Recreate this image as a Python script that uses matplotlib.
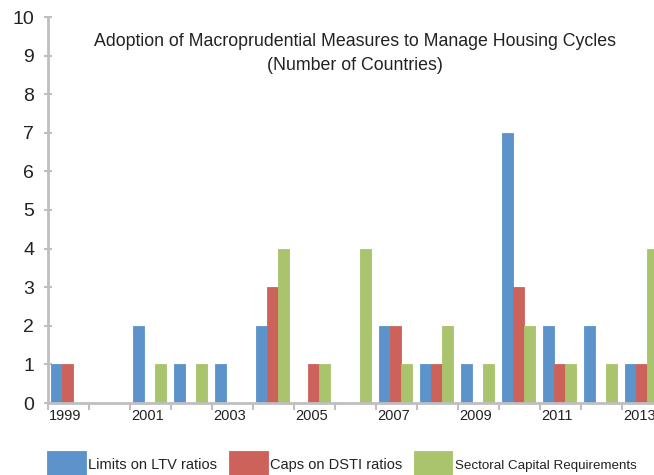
import matplotlib
matplotlib.use("Agg")
import matplotlib.pyplot as plt
import numpy as np

years = [str(y) for y in range(1999, 2014)]
ltv = [1, 0, 2, 1, 1, 2, 0, 0, 2, 1, 1, 7, 2, 2, 1]
dsti = [1, 0, 0, 0, 0, 3, 1, 0, 2, 1, 0, 3, 1, 0, 1]
sectoral = [0, 0, 1, 1, 0, 4, 1, 4, 1, 2, 1, 2, 1, 1, 4]
series_names = ["Limits on LTV ratios", "Caps on DSTI ratios", "Sectoral Capital Requirements"]
colors = ["#5B93CA", "#CD625B", "#A9C46C"]

plt.rcParams['font.family'] = ['Liberation Sans', 'DejaVu Sans']

fig = plt.figure(figsize=(6.54, 4.75), dpi=100)
ax = fig.add_axes([48/654, 72/475, 1 - 48/654, (403-17)/475])

x = np.arange(len(years))
w = 0.268
offs = [-0.293, -0.025, 0.243]
handles = []
for vals, off, c, name in zip([ltv, dsti, sectoral], offs, colors, series_names):
    b = ax.bar(x + off, vals, width=w, color=c, label=name, zorder=2,
               edgecolor=c, linewidth=0.6)
    handles.append(b)

ax.set_yticks(range(0, 11))
ax.tick_params(axis='y', labelsize=14, colors='#bfbfbf', labelcolor='#222222',
               direction='inout', length=6, width=1.5, pad=7)
ax.set_xticks(x[::2] - 0.08)
ax.set_xticklabels(years[::2])
ax.set_xticks(np.arange(-0.5, 14.5, 1), minor=True)
ax.tick_params(axis='x', which='major', length=0, labelsize=10.5, labelcolor='#222222', pad=4)
ax.tick_params(axis='x', which='minor', length=5, width=1.5, colors='#bfbfbf', direction='out')
ax.set_xlim(-0.5, 14.28)
ax.set_ylim(0, 10)
for s in ['top', 'right']:
    ax.spines[s].set_visible(False)
for s in ['left', 'bottom']:
    ax.spines[s].set_color('#bfbfbf')
    ax.spines[s].set_linewidth(2)

fig.text(355/654, 1 - 42/475, "Adoption of Macroprudential Measures to Manage Housing Cycles",
         ha='center', va='center', fontsize=12.8, color='#222222')
fig.text(355/654, 1 - 66/475, "(Number of Countries)",
         ha='center', va='center', fontsize=12.8, color='#222222')

leg = fig.legend(handles=handles, labels=series_names, loc='lower left',
                 bbox_to_anchor=(47/654, -2/475), ncol=3, frameon=False, fontsize=10.5,
                 handlelength=2.67, handleheight=2.35, handletextpad=0.14,
                 columnspacing=0.8, borderpad=0, borderaxespad=0, labelcolor='#222222')
leg.get_texts()[2].set_fontsize(9.6)

fig.savefig("out.png", dpi=100)
